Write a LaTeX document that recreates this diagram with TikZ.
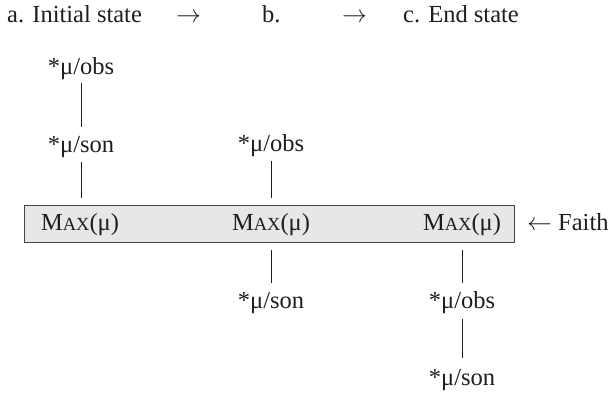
\documentclass[tikz,border=0pt]{standalone}
\usepackage{fontspec}
\setmainfont{Liberation Serif}
\definecolor{boxfill}{RGB}{231,231,231}
\definecolor{boxline}{RGB}{70,70,70}
\definecolor{ink}{RGB}{30,30,30}
\newcommand{\mymax}{M{\fontsize{18.5}{20}\selectfont AX}(μ)}
\begin{document}
\begin{tikzpicture}[x=1pt,y=-1pt,
  every node/.style={text=ink,font=\fontsize{24.5}{29}\selectfont},
  txt/.style={inner sep=0pt,anchor=base west},
  lbl/.style={inner sep=0pt,anchor=base,text height=17pt,text depth=5pt},
  link/.style={draw=ink,line width=0.9pt},
  tier/.style={draw=boxline,fill=boxfill,line width=0.9pt,minimum width=490pt,minimum height=37pt,inner sep=0pt}
]
\useasboundingbox (0,0) rectangle (615,395);
% header
\node[txt] (ha) at (7,23) {a. Initial state};
\node[txt] (hr1) at (176,23) {$\rightarrow$};
\node[txt] (hb) at (262,23) {b.};
\node[txt] (hr2) at (342,23) {$\rightarrow$};
\node[txt] (hc) at (403,23) {c. End state};
% tier box
\node[tier] (box) at (269,223.5) {};
\node[lbl] (m1) at (80,230) {\mymax};
\node[lbl] (m2) at (271,230) {\mymax};
\node[lbl] (m3) at (462,230) {\mymax};
\node[txt] (faith) at (527,230) {$\leftarrow$ Faith};
% column 1
\node[lbl] (o1) at (81,75) {*μ/obs};
\node[lbl] (s1) at (81,153) {*μ/son};
\draw[link,shorten <=3pt,shorten >=9pt] (o1) -- (s1);
\draw[link,shorten <=4pt,shorten >=7pt] (s1.south) -- (s1.south |- box.north);
% column 2
\node[lbl] (o2) at (271,152) {*μ/obs};
\draw[link,shorten <=4pt,shorten >=7pt] (o2.south) -- (o2.south |- box.north);
\node[lbl] (s2) at (271,308) {*μ/son};
\draw[link,shorten <=8pt,shorten >=8pt] (s2.north |- box.south) -- (s2.north);
% column 3
\node[lbl] (o3) at (462,308) {*μ/obs};
\node[lbl] (s3) at (462,385) {*μ/son};
\draw[link,shorten <=8pt,shorten >=8pt] (o3.north |- box.south) -- (o3.north);
\draw[link,shorten <=6pt,shorten >=10pt] (o3) -- (s3);
\end{tikzpicture}
\end{document}
